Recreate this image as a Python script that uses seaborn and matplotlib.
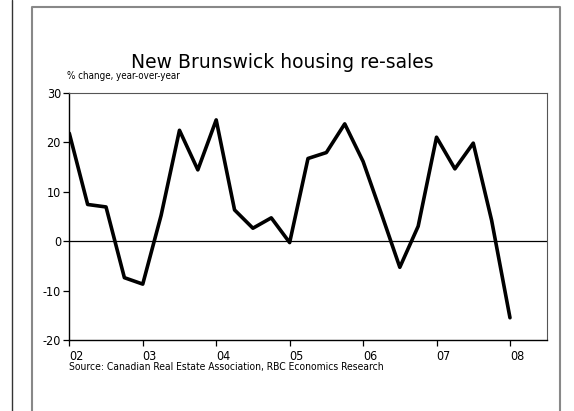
import matplotlib
matplotlib.use("Agg")
import matplotlib.pyplot as plt
import seaborn as sns
import pandas as pd
from matplotlib.lines import Line2D

# ---- data ----
quarters = list(range(25))  # 2002Q1 .. 2008Q1
values = [21.8, 7.4, 6.9, -7.4, -8.7, 5.2, 22.4, 14.4, 24.5, 6.3, 2.6, 4.7, -0.3,
          16.7, 17.9, 23.7, 16.1, 5.5, -5.3, 3.0, 21.0, 14.6, 19.8, 4.2, -15.5]
year_ticks = [0, 4, 8, 12, 16, 20, 24]
year_labels = ["02", "03", "04", "05", "06", "07", "08"]
y_ticks = [-20, -10, 0, 10, 20, 30]

title = "New Brunswick housing re-sales"
subtitle = "% change, year-over-year"
source = "Source: Canadian Real Estate Association, RBC Economics Research"

df = pd.DataFrame({"q": quarters, "v": values})

sns.set_theme(style="white")
plt.rcParams["font.family"] = ["DejaVu Sans"]
plt.rcParams["text.color"] = "black"
plt.rcParams["xtick.color"] = "black"
plt.rcParams["ytick.color"] = "black"

fig = plt.figure(figsize=(5.74, 4.11), dpi=100)
ax = fig.add_axes([69.3 / 574, 1 - 340 / 411, (546.7 - 69.3) / 574, (340 - 92.7) / 411])

sns.lineplot(data=df, x="q", y="v", ax=ax, color="black", linewidth=2.6)
ax.axhline(0, color="black", linewidth=0.9)

ax.set_xlim(0, 26)
ax.set_ylim(-20, 30)
ax.set_xticks(year_ticks)
ax.set_xticklabels(year_labels, ha="left")
ax.set_yticks(y_ticks)
ax.set_yticklabels([str(t) for t in y_ticks])
ax.set_xlabel("")
ax.set_ylabel("")

ax.tick_params(axis="both", which="both", direction="out", length=4, width=0.9,
               color="black", labelcolor="black", labelsize=9, pad=2,
               bottom=True, left=True)
ax.tick_params(axis="x", pad=3)
for lab in ax.get_xticklabels() + ax.get_yticklabels():
    lab.set_fontstretch("condensed")

for side in ["left", "bottom"]:
    ax.spines[side].set_color("black")
    ax.spines[side].set_linewidth(1.0)
for side in ["top", "right"]:
    ax.spines[side].set_color("#555555")
    ax.spines[side].set_linewidth(0.8)

fig.text(282 / 574, 1 - 62 / 411, title, ha="center", va="center", fontsize=13.5,
         color="black")
fig.text(67 / 574, 1 - 76 / 411, subtitle, ha="left", va="center", fontsize=7.0,
         fontstretch="condensed", color="black")
fig.text(69 / 574, 1 - 367 / 411, source, ha="left", va="center", fontsize=7.4,
         fontstretch="condensed", color="black")

# outer frame decorations
fig.add_artist(Line2D([12 / 574, 12 / 574], [0, 1], transform=fig.transFigure,
                      color="#333333", linewidth=1.0))
fig.add_artist(Line2D([32 / 574, 32 / 574, 560 / 574, 560 / 574],
                      [0, 1 - 7 / 411, 1 - 7 / 411, 0], transform=fig.transFigure,
                      color="#888888", linewidth=1.5))

fig.savefig("out.png", dpi=100, facecolor="white")
